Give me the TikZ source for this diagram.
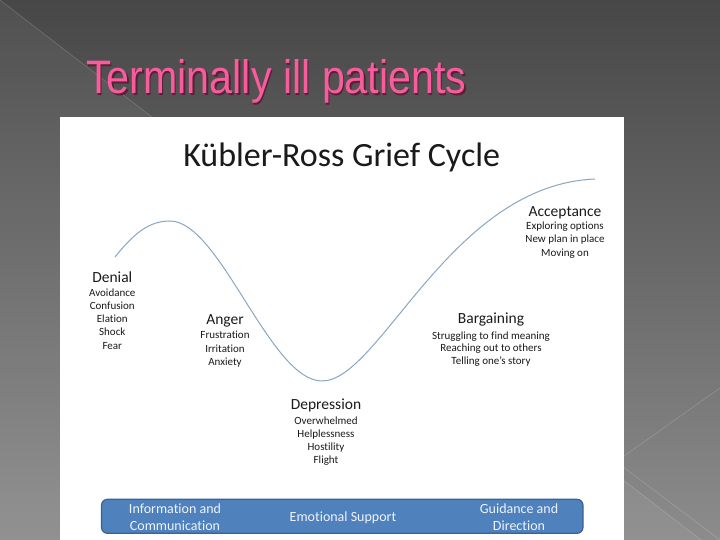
\documentclass[tikz,border=0pt]{standalone}
\usepackage{fontspec}
\setmainfont{Carlito}[Ligatures=NoCommon]
\newfontfamily\titlefont{Liberation Sans}
\usepackage{graphicx}
\definecolor{bgtop}{HTML}{474747}
\definecolor{bgmid}{HTML}{5E5E5E}
\definecolor{bgbot}{HTML}{8C8C8C}
\definecolor{titlepink}{HTML}{F75C9C}
\definecolor{titleshadow}{HTML}{5A2038}
\definecolor{curveblue}{HTML}{8AA6C2}
\definecolor{barfill}{HTML}{4F81BD}
\definecolor{barline}{HTML}{3A6394}
\definecolor{bartext}{HTML}{EEF3FA}
\definecolor{labeltext}{HTML}{1A1A1A}
\tikzset{
  stagename/.style={anchor=base, inner sep=0pt, text=labeltext, font=\fontsize{15.5}{18}\selectfont},
  stageitem/.style={anchor=base, inner sep=0pt, text=labeltext, font=\fontsize{11}{13}\selectfont},
  bartxt/.style={anchor=base, inner sep=0pt, text=bartext, font=\fontsize{14}{17}\selectfont},
  griefcurve/.style={draw=curveblue, line width=1pt},
  bgline/.style={draw=white, draw opacity=0.18, line width=0.6pt}
}
\begin{document}
\begin{tikzpicture}[x=1pt,y=-1pt]
\useasboundingbox (0,0) rectangle (720,540);
% background
\fill[top color=bgtop, middle color=bgmid, bottom color=bgbot] (0,0) rectangle (720,540);
\fill[white, opacity=0.05] (0,0) -- (701,540) -- (0,540) -- cycle;
\draw[bgline] (0,0) -- (701,540);
\draw[bgline] (610,466) -- (720,388);
\draw[bgline] (610,457) -- (720,540);
% title
\node[anchor=base west, inner sep=0pt, text=titleshadow, font=\titlefont\fontsize{47}{50}\selectfont] (tshadow) at (87.5,95.3) {\scalebox{0.877}[1]{Terminally ill patients}};
\node[anchor=base west, inner sep=0pt, text=titlepink, font=\titlefont\fontsize{47}{50}\selectfont] (title) at (86,94) {\scalebox{0.877}[1]{Terminally ill patients}};
% white panel
\fill[white] (60,117) rectangle (624,540);
% diagram title
\node[anchor=base, inner sep=0pt, text=labeltext, font=\fontsize{34}{40}\selectfont] (krtitle) at (341.7,166.7) {Kübler-Ross Grief Cycle};
% curve
\draw[griefcurve] (115,257) .. controls (135,232) and (150,221) .. (170,221)
  .. controls (220,221) and (270,381) .. (322,381)
  .. controls (380,381) and (450,185) .. (595,179);
% Denial
\node[stagename] (denial) at (112.3,282) {Denial};
\node[stageitem] (d1) at (112.3,296) {Avoidance};
\node[stageitem] (d2) at (112.3,309.3) {Confusion};
\node[stageitem] (d3) at (112.3,322.5) {Elation};
\node[stageitem] (d4) at (112.3,335.7) {Shock};
\node[stageitem] (d5) at (112.3,349) {Fear};
% Anger
\node[stagename] (anger) at (225,324) {Anger};
\node[stageitem] (a1) at (225,338.7) {Frustration};
\node[stageitem] (a2) at (225,352) {Irritation};
\node[stageitem] (a3) at (225,365.2) {Anxiety};
% Depression
\node[stagename] (depr) at (326,409) {Depression};
\node[stageitem] (p1) at (326,424) {Overwhelmed};
\node[stageitem] (p2) at (326,437.3) {Helplessness};
\node[stageitem] (p3) at (326,450.5) {Hostility};
\node[stageitem] (p4) at (326,463.7) {Flight};
% Bargaining
\node[stagename] (barg) at (491,323.7) {Bargaining};
\node[stageitem] (b1) at (491,339) {Struggling to find meaning};
\node[stageitem] (b2) at (491,351.8) {Reaching out to others};
\node[stageitem] (b3) at (491,364.8) {Telling one’s story};
% Acceptance
\node[stagename] (acc) at (565,216.3) {Acceptance};
\node[stageitem] (c1) at (565,229.8) {Exploring options};
\node[stageitem] (c2) at (565,243) {New plan in place};
\node[stageitem] (c3) at (565,256.2) {Moving on};
% bottom bar
\draw[fill=barfill, draw=barline, line width=1.2pt, rounded corners=6pt] (101.5,499.3) rectangle (583,533.3);
\node[bartxt] (info1) at (175,513.3) {Information and};
\node[bartxt] (info2) at (175,530.3) {Communication};
\node[bartxt] (emo) at (343,521.8) {Emotional Support};
\node[bartxt] (guid1) at (519,513.3) {Guidance and};
\node[bartxt] (guid2) at (519,530.3) {Direction};
\end{tikzpicture}
\end{document}
